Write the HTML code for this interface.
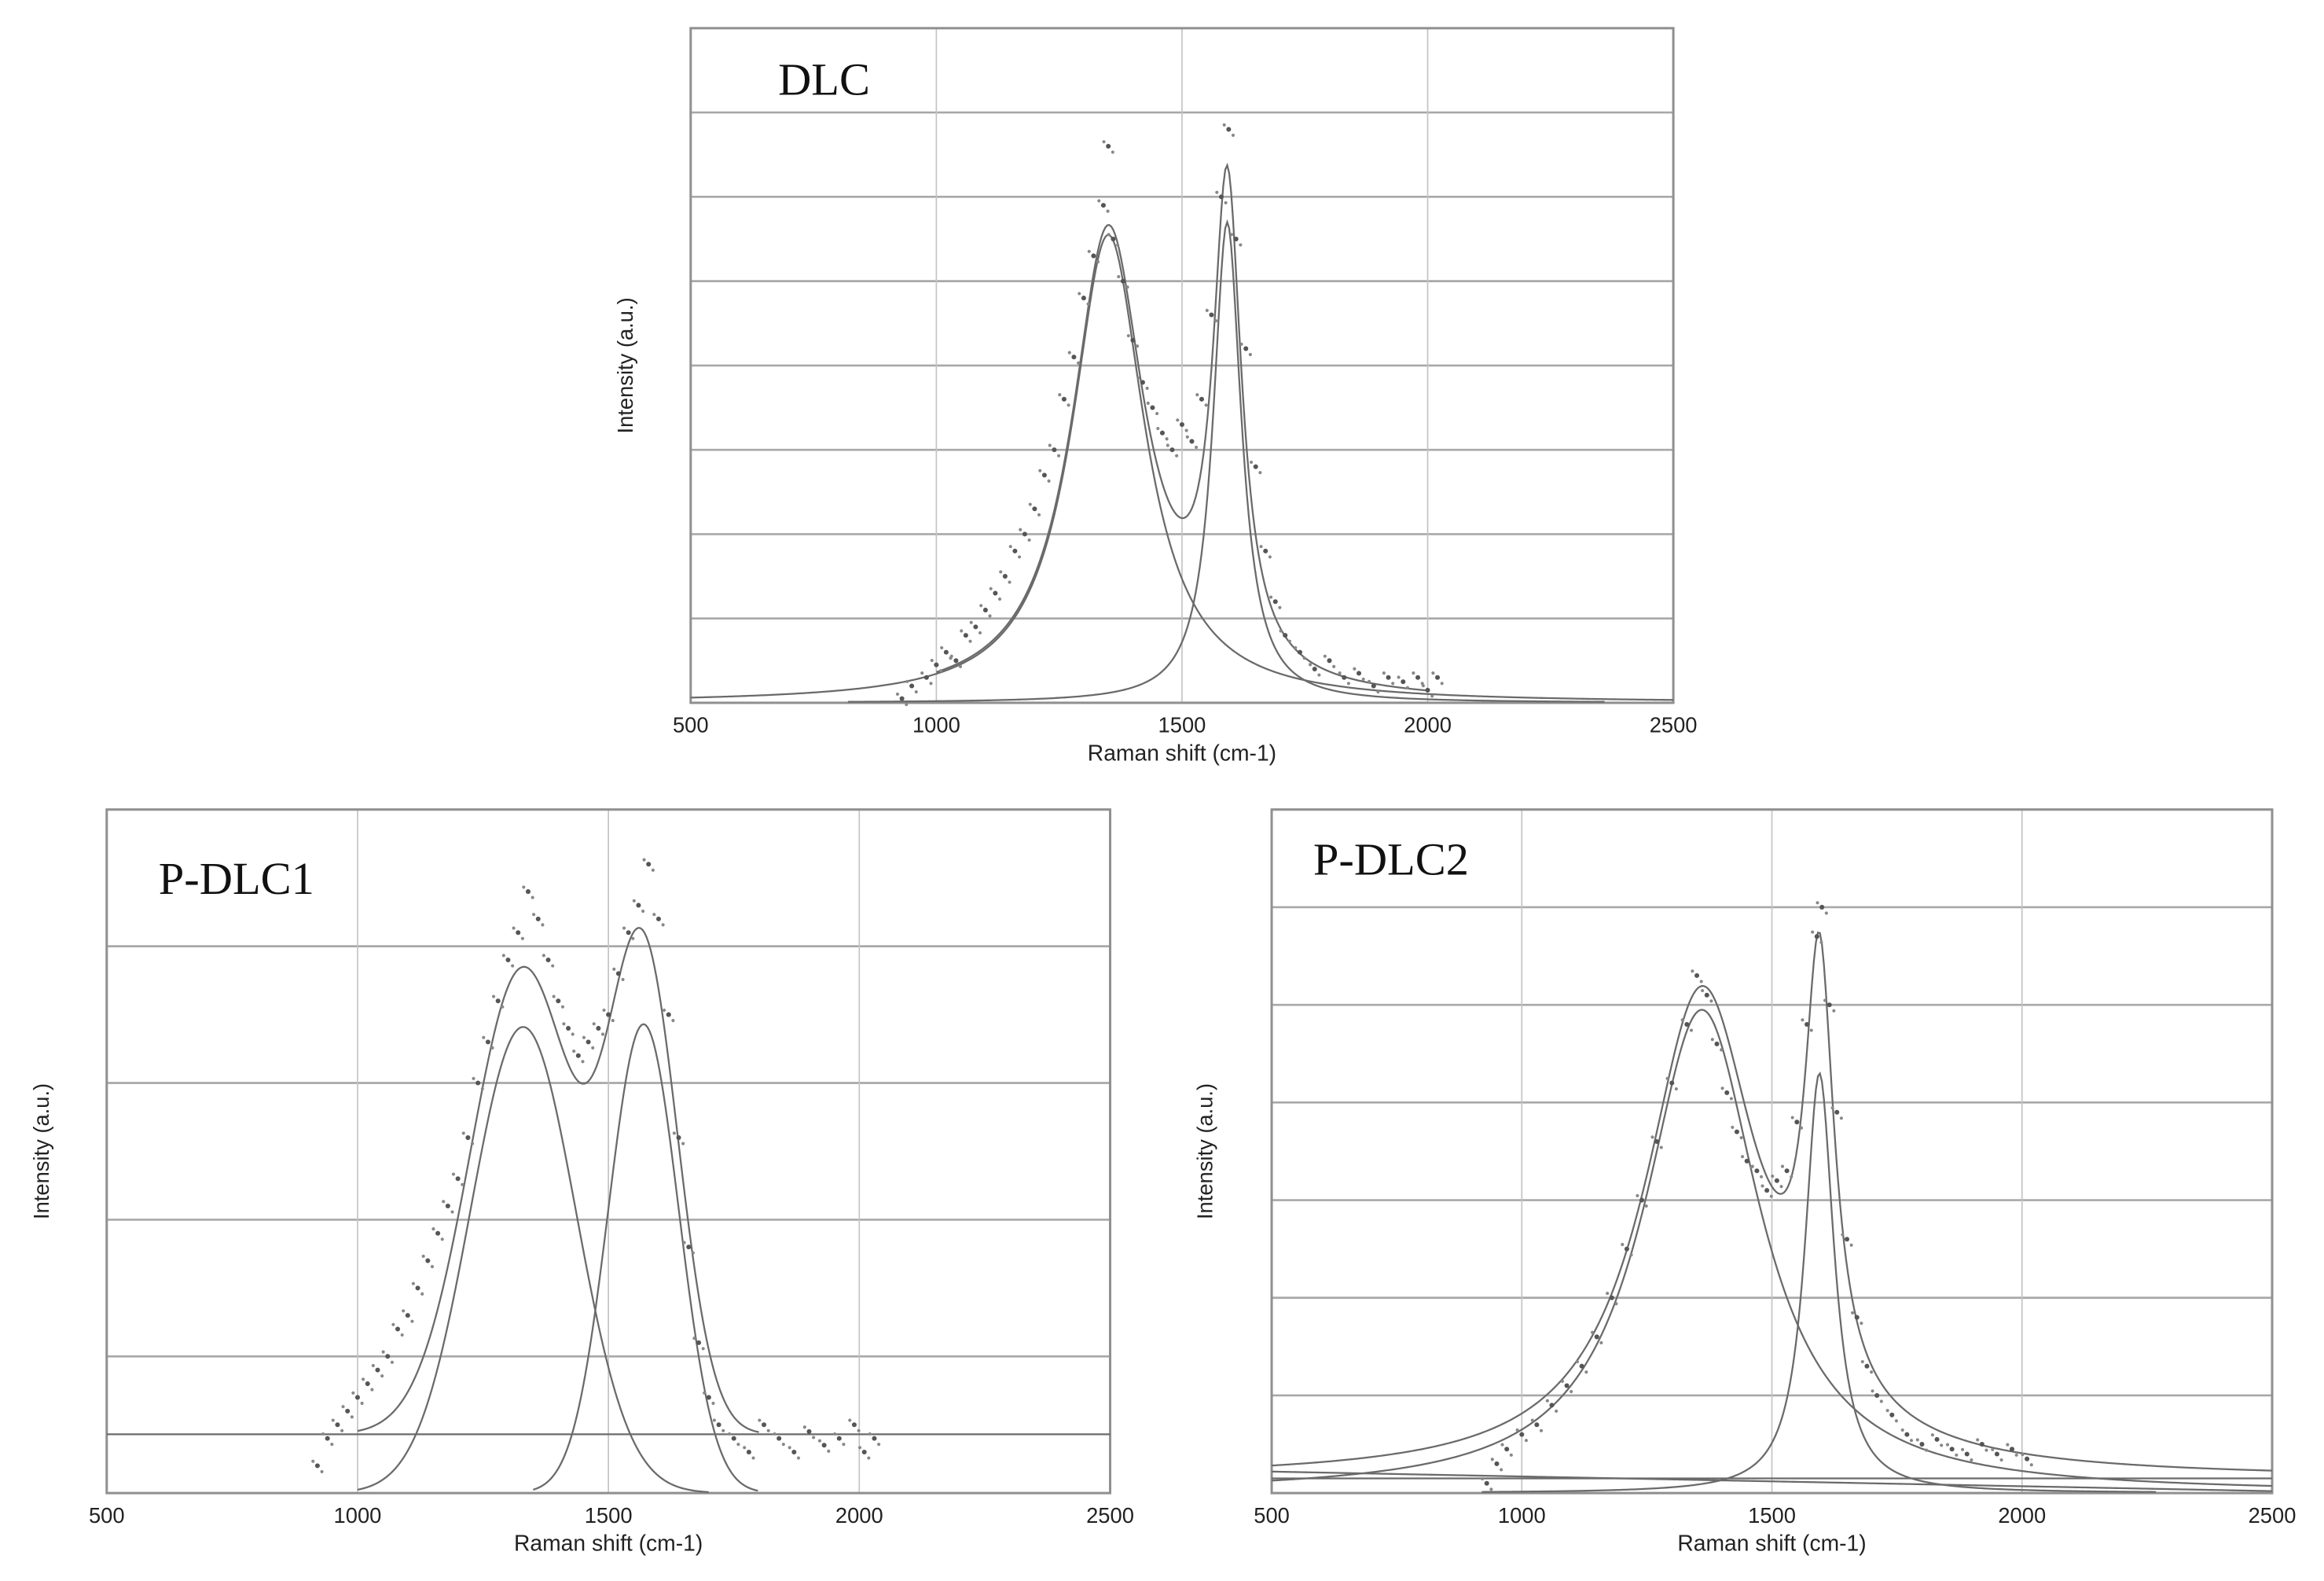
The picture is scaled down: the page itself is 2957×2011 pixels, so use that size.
<!DOCTYPE html>
<html><head><meta charset="utf-8"><style>
html,body{margin:0;padding:0;background:#fff;}
svg{display:block;}
</style></head><body>
<svg id="fig" width="2957" height="2011" viewBox="0 0 1568 1066.3" preserveAspectRatio="none" xmlns="http://www.w3.org/2000/svg"></svg>
<script>
// ---- data ----
const xTicks = [500, 1000, 1500, 2000, 2500];
const xTickLabels = ["500", "1000", "1500", "2000", "2500"];
// DLC (Lorentzian fit, y units 0-8)
const dlcD = [1350, 5.55, 90];   // center, amplitude, hwhm
const dlcG = [1592, 5.7, 35];
const dlcScatterX = [930,950,980,1000,1020,1040,1060,1080,1100,1120,1140,1160,1180,1200,1220,1240,1260,1280,1300,1320,1340,1350,1360,1380,1400,1420,1440,1460,1480,1500,1520,1540,1560,1580,1595,1610,1630,1650,1670,1690,1710,1740,1770,1800,1830,1860,1890,1920,1950,1980,2000,2020];
const dlcScatterY = [0.05,0.2,0.3,0.45,0.6,0.5,0.8,0.9,1.1,1.3,1.5,1.8,2.0,2.3,2.7,3.0,3.6,4.1,4.8,5.3,5.9,6.6,5.5,5.0,4.3,3.8,3.5,3.2,3.0,3.3,3.1,3.6,4.6,6.0,6.8,5.5,4.2,2.8,1.8,1.2,0.8,0.6,0.4,0.5,0.3,0.35,0.2,0.3,0.25,0.3,0.15,0.3];
// P-DLC1 (Gaussian fit, y units 0-5)
const p1Base = 0.43;
const p1D = [1330, 3.41, 105];   // center, amplitude, sigma
const p1G = [1570, 3.43, 70];
const p1ScatterX = [920,940,960,980,1000,1020,1040,1060,1080,1100,1120,1140,1160,1180,1200,1220,1240,1260,1280,1300,1320,1340,1360,1380,1400,1420,1440,1460,1480,1500,1520,1540,1560,1580,1600,1620,1640,1660,1680,1700,1720,1750,1780,1810,1840,1870,1900,1930,1960,1990,2010,2030];
const p1ScatterY = [0.2,0.4,0.5,0.6,0.7,0.8,0.9,1.0,1.2,1.3,1.5,1.7,1.9,2.1,2.3,2.6,3.0,3.3,3.6,3.9,4.1,4.4,4.2,3.9,3.6,3.4,3.2,3.3,3.4,3.5,3.8,4.1,4.3,4.6,4.2,3.5,2.6,1.8,1.1,0.7,0.5,0.4,0.3,0.5,0.4,0.3,0.45,0.35,0.4,0.5,0.3,0.4];
// P-DLC2 (Lorentzian fit, y units 0-7)
const p2Base = 0.15;
const p2D = [1360, 4.95, 140];
const p2G = [1595, 4.3, 35];
const p2ScatterX = [930,950,970,1000,1030,1060,1090,1120,1150,1180,1210,1240,1270,1300,1330,1350,1370,1390,1410,1430,1450,1470,1490,1510,1530,1550,1570,1590,1600,1615,1630,1650,1670,1690,1710,1740,1770,1800,1830,1860,1890,1920,1950,1980,2010];
const p2ScatterY = [0.1,0.3,0.45,0.6,0.7,0.9,1.1,1.3,1.6,2.0,2.5,3.0,3.6,4.2,4.8,5.3,5.1,4.6,4.1,3.7,3.4,3.3,3.1,3.2,3.3,3.8,4.8,5.7,6.0,5.0,3.9,2.6,1.8,1.3,1.0,0.8,0.6,0.5,0.55,0.45,0.4,0.5,0.4,0.45,0.35];

// ---- helpers ----
const NS = "http://www.w3.org/2000/svg";
const svg = document.getElementById("fig");
function mk(tag, attrs, parent) {
  const e = document.createElementNS(NS, tag);
  for (const k in attrs) e.setAttribute(k, attrs[k]);
  (parent || svg).appendChild(e);
  return e;
}
function lor(x, p) { const d = (x - p[0]) / p[2]; return p[1] / (1 + d * d); }
function gau(x, p) { const d = (x - p[0]) / p[2]; return p[1] * Math.exp(-0.5 * d * d); }

function panel(cfg) {
  const g = mk("g", {});
  
  
  const sx = v => cfg.x0 + (v - 500) / 2000 * (cfg.x1 - cfg.x0);
  const sy = v => cfg.y1 - v / cfg.ymax * (cfg.y1 - cfg.y0);
  for (let i = 0; i <= cfg.ymax; i++) {
    const l = mk("line", {x1: cfg.x0, x2: cfg.x1, y1: sy(i), y2: sy(i), stroke: "#a8a8a8", "stroke-width": 1.4}, g);
    
    
  }
  xTicks.forEach((t, i) => {
    const l = mk("line", {x1: sx(t), x2: sx(t), y1: cfg.y0, y2: cfg.y1, stroke: "#c4c4c4", "stroke-width": 0.9}, g);
    
    
    const tx = mk("text", {x: sx(t), y: cfg.y1 + 20, "font-family": "Liberation Sans, sans-serif", "font-size": 14.5, fill: "#222", "text-anchor": "middle"}, g);
    tx.textContent = xTickLabels[i];
    
    
  });
  const fr = mk("rect", {x: cfg.x0, y: cfg.y0, width: cfg.x1 - cfg.x0, height: cfg.y1 - cfg.y0, fill: "none", stroke: "#909090", "stroke-width": 1.6}, g);
  
  
  const xt = mk("text", {x: (cfg.x0 + cfg.x1) / 2, y: cfg.y1 + 39, "font-family": "Liberation Sans, sans-serif", "font-size": 15, fill: "#222", "text-anchor": "middle"}, g);
  xt.textContent = "Raman shift (cm-1)";
  
  
  const yc = (cfg.y0 + cfg.y1) / 2;
  const yt = mk("text", {x: cfg.ytx, y: yc, transform: "rotate(-90 " + cfg.ytx + " " + yc + ")", "font-family": "Liberation Sans, sans-serif", "font-size": 14.5, fill: "#222", "text-anchor": "middle"}, g);
  yt.textContent = "Intensity (a.u.)";
  
  
  const tl = mk("text", {x: cfg.tx, y: cfg.ty, "font-family": "Liberation Serif, serif", "font-size": 31, fill: "#111"}, g);
  tl.textContent = cfg.title;
  
  
  cfg.curves.forEach(c => {
    let d = "";
    for (let x = c.from; x <= c.to; x += 4) {
      d += (d ? "L" : "M") + sx(x).toFixed(2) + "," + sy(c.f(x)).toFixed(2);
    }
    const p = mk("path", {d: d, fill: "none", stroke: "#6a6a6a", "stroke-width": 1.2}, g);
    
    
  });
  cfg.sxs.forEach((x, i) => {
    const cx = sx(x), cy = sy(cfg.sys[i]);
    const c = mk("circle", {cx: cx, cy: cy, r: 1.6, fill: "#555"}, g);
    
    
    // faint halo dots suggesting the dense point cloud (decoration only)
    const h1 = mk("circle", {cx: cx + 3, cy: cy + 4, r: 1.1, fill: "#888"}, g);
    
    
    const h2 = mk("circle", {cx: cx - 3, cy: cy - 3, r: 1.1, fill: "#888"}, g);
    
    
  });
}

panel({name: "dlc-panel", title: "DLC", x0: 466, x1: 1129, y0: 19, y1: 474, ymax: 8, ytx: 427, tx: 525, ty: 64,
  sxs: dlcScatterX, sys: dlcScatterY,
  curves: [
    {name: "d-band-fit", from: 500, to: 2500, f: x => lor(x, dlcD)},
    {name: "g-band-fit", from: 820, to: 2360, f: x => lor(x, dlcG)},
    {name: "sum-fit", from: 1000, to: 2000, f: x => lor(x, dlcD) + lor(x, dlcG)}
  ]});

panel({name: "p-dlc1-panel", title: "P-DLC1", x0: 72, x1: 749, y0: 546, y1: 1007, ymax: 5, ytx: 33, tx: 107, ty: 603,
  sxs: p1ScatterX, sys: p1ScatterY,
  curves: [
    {name: "baseline", from: 500, to: 2500, f: x => p1Base},
    {name: "d-band-fit", from: 1000, to: 1700, f: x => gau(x, p1D)},
    {name: "g-band-fit", from: 1350, to: 1800, f: x => gau(x, p1G)},
    {name: "sum-fit", from: 1000, to: 1800, f: x => p1Base + gau(x, p1D) + gau(x, p1G)}
  ]});

panel({name: "p-dlc2-panel", title: "P-DLC2", x0: 858, x1: 1533, y0: 546, y1: 1007, ymax: 7, ytx: 818, tx: 886, ty: 590,
  sxs: p2ScatterX, sys: p2ScatterY,
  curves: [
    {name: "baseline", from: 500, to: 2500, f: x => p2Base},
    {name: "baseline-2", from: 500, to: 2500, f: x => 0.22 - (x - 500) / 2000 * 0.2},
    {name: "d-band-fit", from: 500, to: 2500, f: x => lor(x, p2D)},
    {name: "g-band-fit", from: 920, to: 2270, f: x => lor(x, p2G)},
    {name: "sum-fit", from: 500, to: 2500, f: x => p2Base + lor(x, p2D) + lor(x, p2G)}
  ]});
</script>
</body></html>
